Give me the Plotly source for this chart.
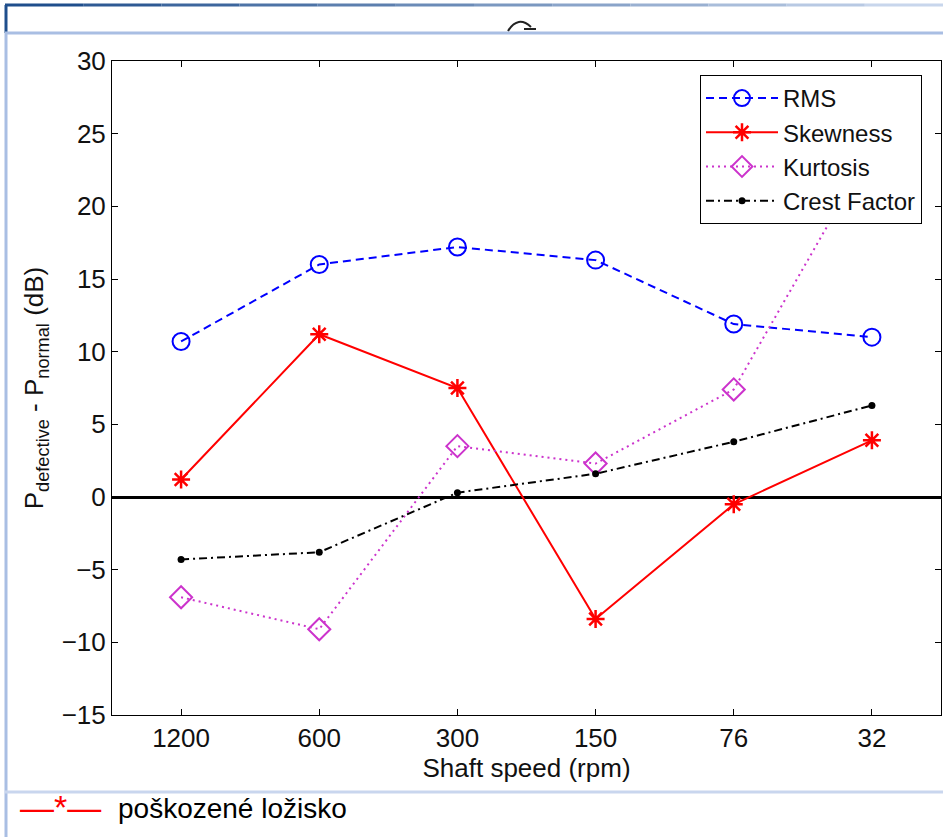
import plotly.graph_objects as go

speeds = ["1200", "600", "300", "150", "76", "32"]
rms = [10.7, 16.0, 17.2, 16.3, 11.9, 11.0]
skewness = [1.2, 11.2, 7.5, -8.4, -0.5, 3.9]
kurtosis = [-6.9, -9.1, 3.5, 2.3, 7.4, 24.0]
crest = [-4.3, -3.8, 0.3, 1.6, 3.8, 6.3]
y_ticks = [-15, -10, -5, 0, 5, 10, 15, 20, 25, 30]

W, H = 943, 837
L, R, T, B = 112, 941, 61, 715


def px(x):
    return (x - L) / (R - L)


def py(y):
    return (B - y) / (B - T)


FONT = "Liberation Sans, Arial, sans-serif"
FS = 26

fig = go.Figure()
fig.add_trace(go.Scatter(
    x=speeds, y=rms, name="RMS", mode="lines+markers",
    line=dict(color="#0000FF", width=2, dash="8px,5px"),
    marker=dict(symbol="circle-open", size=17, color="#0000FF", line=dict(width=2, color="#0000FF")),
))
fig.add_trace(go.Scatter(
    x=speeds, y=skewness, name="Skewness", mode="lines+markers",
    line=dict(color="#FF0000", width=2),
    marker=dict(symbol="asterisk-open", size=15, color="#FF0000", line=dict(width=2.5, color="#FF0000")),
))
fig.add_trace(go.Scatter(
    x=speeds, y=kurtosis, name="Kurtosis", mode="lines+markers",
    line=dict(color="#CC33CC", width=2, dash="2px,4px"),
    marker=dict(symbol="diamond-open", size=17, color="#CC33CC", line=dict(width=2, color="#CC33CC")),
))
fig.add_trace(go.Scatter(
    x=speeds, y=crest, name="Crest Factor", mode="lines+markers",
    line=dict(color="#000000", width=2, dash="8px,4px,2px,4px"),
    marker=dict(symbol="circle", size=7, color="#000000"),
))

shapes = []
# screenshot frame: dark gradient top line
n = 12
c0 = (31, 78, 140)
c1 = (200, 214, 236)
for i in range(n):
    t = i / (n - 1)
    col = "rgb(%d,%d,%d)" % tuple(int(c0[k] + (c1[k] - c0[k]) * t) for k in range(3))
    xa = 5 + (943 - 5) * i / n
    xb = 5 + (943 - 5) * (i + 1) / n
    shapes.append(dict(type="line", xref="paper", yref="paper", x0=px(xa), x1=px(xb),
                       y0=py(5), y1=py(5), line=dict(color=col, width=3)))
shapes.append(dict(type="line", xref="paper", yref="paper", x0=px(6), x1=px(6),
                   y0=py(5), y1=py(33), line=dict(color="rgb(31,78,140)", width=3)))
# light blue inner frame
lb = "#A9BEE3"
shapes.append(dict(type="line", xref="paper", yref="paper", x0=px(5), x1=px(943),
                   y0=py(33), y1=py(33), line=dict(color=lb, width=3)))
shapes.append(dict(type="line", xref="paper", yref="paper", x0=px(6), x1=px(6),
                   y0=py(33), y1=py(837), line=dict(color=lb, width=3)))
shapes.append(dict(type="line", xref="paper", yref="paper", x0=px(5), x1=px(943),
                   y0=py(792), y1=py(792), line=dict(color="#C9D6EE", width=3)))
# partial glyph at top
shapes.append(dict(type="path", xref="paper", yref="paper",
                   path="M %f,%f Q %f,%f %f,%f" % (px(508), py(31), px(518), py(15), px(531), py(27)),
                   line=dict(color="#222222", width=2)))
shapes.append(dict(type="line", xref="paper", yref="paper", x0=px(524), x1=px(536),
                   y0=py(29), y1=py(29), line=dict(color="#222222", width=2)))

fig.update_layout(
    width=W, height=H,
    margin=dict(l=L, r=W - R, t=T, b=H - B),
    paper_bgcolor="white", plot_bgcolor="white",
    font=dict(family=FONT, size=FS, color="#111111"),
    showlegend=True,
    legend=dict(
        x=px(922), y=py(75), xanchor="right", yanchor="top",
        bgcolor="white", bordercolor="black", borderwidth=1,
        font=dict(family=FONT, size=24, color="#111111"),
        itemwidth=72, tracegroupgap=0,
    ),
    xaxis=dict(
        type="category", range=[-0.5, 5.5],
        showline=True, linecolor="black", linewidth=1, mirror="ticks",
        ticks="inside", ticklen=6, tickcolor="black",
        showgrid=False, zeroline=False,
        tickfont=dict(family=FONT, size=FS),
        title=dict(text="Shaft speed (rpm)", font=dict(family=FONT, size=FS), standoff=2),
    ),
    yaxis=dict(
        range=[-15, 30], tickvals=y_ticks,
        showline=True, linecolor="black", linewidth=1, mirror="ticks",
        ticks="inside", ticklen=6, tickcolor="black",
        showgrid=False,
        zeroline=True, zerolinecolor="black", zerolinewidth=3,
        tickfont=dict(family=FONT, size=FS),
        title=dict(text="P<sub>defective</sub> - P<sub>normal</sub> (dB)",
                   font=dict(family=FONT, size=FS), standoff=10),
    ),
    shapes=shapes,
    annotations=[
        dict(
            xref="paper", yref="paper", x=px(18), y=py(807), xanchor="left", yanchor="middle",
            showarrow=False, text="—*—",
            font=dict(family=FONT, size=34, color="#FF0000"),
        ),
        dict(
            xref="paper", yref="paper", x=px(116), y=py(808), xanchor="left", yanchor="middle",
            showarrow=False, text="poškozené ložisko",
            font=dict(family=FONT, size=28, color="#000000"),
        ),
    ],
)

fig.write_html("out.html")
